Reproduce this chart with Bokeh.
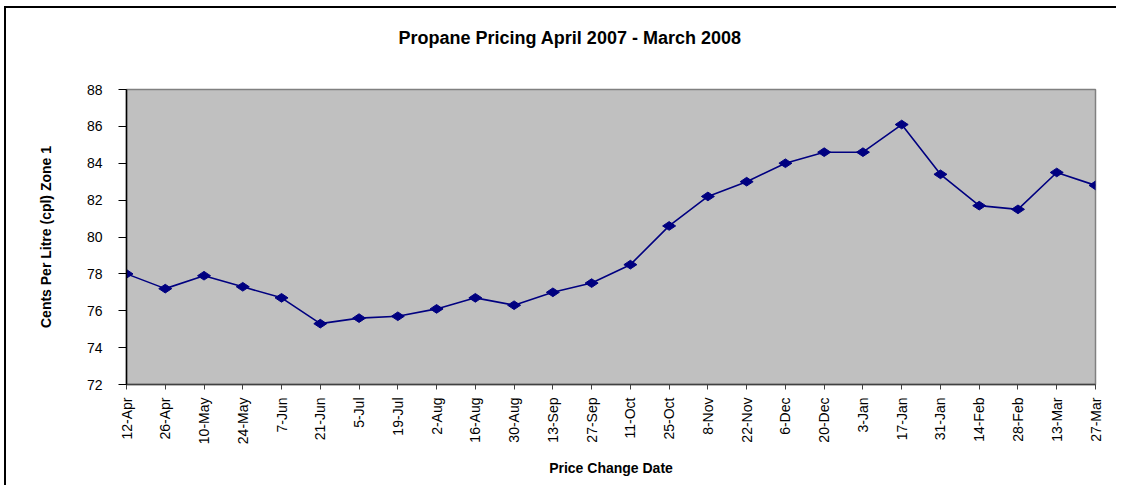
from bokeh.plotting import figure
from bokeh.models import FixedTicker, Range1d, Title, ColumnDataSource
from bokeh.embed import file_html
from bokeh.resources import INLINE
import math

dates = ["12-Apr", "26-Apr", "10-May", "24-May", "7-Jun", "21-Jun", "5-Jul", "19-Jul",
         "2-Aug", "16-Aug", "30-Aug", "13-Sep", "27-Sep", "11-Oct", "25-Oct", "8-Nov",
         "22-Nov", "6-Dec", "20-Dec", "3-Jan", "17-Jan", "31-Jan", "14-Feb", "28-Feb",
         "13-Mar", "27-Mar"]
prices = [78.0, 77.2, 77.9, 77.3, 76.7, 75.3, 75.6, 75.7,
          76.1, 76.7, 76.3, 77.0, 77.5, 78.5, 80.6, 82.2,
          83.0, 84.0, 84.6, 84.6, 86.1, 83.4, 81.7, 81.5,
          83.5, 82.8]
y_ticks = [72, 74, 76, 78, 80, 82, 84, 86, 88]

idx = list(range(len(dates)))
src = ColumnDataSource(data=dict(x=idx, y=prices, d=dates))

FONT = "Liberation Sans"

p = figure(width=1112, height=479, output_backend="svg", toolbar_location=None,
           x_range=Range1d(0, len(dates) - 1), y_range=Range1d(72, 88),
           min_border_left=120, min_border_right=23, min_border_top=81, min_border_bottom=103)
p.styles = {"border-left": "2px solid black", "border-top": "2px solid black",
            "margin-left": "4px", "margin-top": "6px"}

# main title (outermost) and a blank spacer between it and the plot area
p.title.text = "Propane Pricing April 2007 - March 2008"
p.title.align = "left"
p.title.offset = 272
p.title.standoff = 0
p.title.text_font = FONT
p.title.text_font_size = "18px"
p.title.text_font_style = "bold"
p.title.text_color = "black"
spacer = Title(text=" ", text_font=FONT, text_font_size="18px", standoff=20)
p.add_layout(spacer, "above")

p.background_fill_color = "#C0C0C0"
p.border_fill_color = "white"
p.outline_line_color = "#808080"
p.outline_line_width = 1.5
p.xgrid.visible = False
p.ygrid.visible = False

p.line("x", "y", source=src, line_color="#000080", line_width=1.6)
p.scatter("x", "y", source=src, marker="diamond", size=13, angle=math.pi / 2,
          fill_color="#000080", line_color="#000080")

xa = p.xaxis[0]
xa.ticker = FixedTicker(ticks=idx)
xa.major_label_overrides = {i: d for i, d in enumerate(dates)}
xa.major_label_orientation = math.pi / 2
xa.major_label_text_font = FONT
xa.major_label_text_font_size = "14px"
xa.major_label_text_color = "black"
xa.major_label_standoff = 8
xa.major_tick_in = 0
xa.major_tick_out = 5
xa.minor_tick_line_color = None
xa.axis_line_color = "#404040"
xa.axis_line_width = 1.5
xa.major_tick_line_color = "#404040"
xa.axis_label = "Price Change Date"
xa.axis_label_text_font = FONT
xa.axis_label_text_font_size = "14px"
xa.axis_label_text_font_style = "bold"
xa.axis_label_text_color = "black"
xa.axis_label_standoff = 13

ya = p.yaxis[0]
ya.ticker = FixedTicker(ticks=y_ticks)
ya.major_label_text_font = FONT
ya.major_label_text_font_size = "14px"
ya.major_label_text_color = "black"
ya.major_label_standoff = 16
ya.major_tick_in = 0
ya.major_tick_out = 8
ya.minor_tick_line_color = None
ya.axis_line_color = "black"
ya.axis_line_width = 1.5
ya.major_tick_line_color = "black"
ya.axis_label = "Cents Per Litre (cpl) Zone 1"
ya.axis_label_text_font = FONT
ya.axis_label_text_font_size = "14px"
ya.axis_label_text_font_style = "bold"
ya.axis_label_text_color = "black"
ya.axis_label_standoff = 30

open("out.html", "w").write(file_html(p, INLINE))
